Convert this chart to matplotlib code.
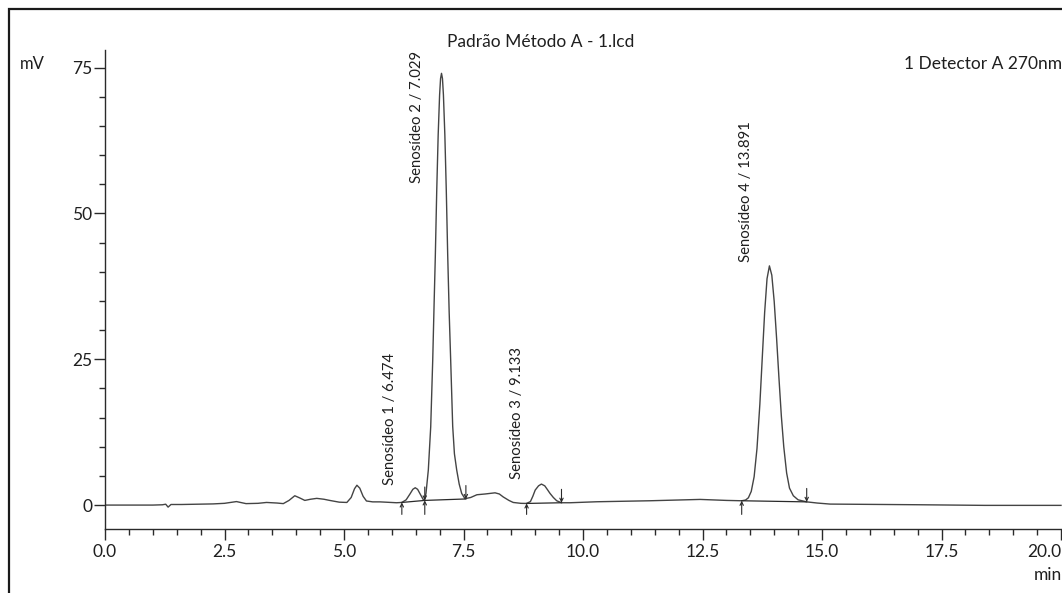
import numpy as np
import matplotlib
matplotlib.use("Agg")
import matplotlib.pyplot as plt
from matplotlib.patches import Rectangle

plt.rcParams['font.family'] = ['Lato', 'DejaVu Sans']

# chromatogram trace (min, mV)
time = [0.0, 1.0, 1.2, 1.27, 1.32, 1.38, 1.6, 2.26, 2.5, 2.75, 2.95, 3.2, 3.38,
        3.6, 3.73, 3.85, 3.97, 4.08, 4.18, 4.3, 4.43, 4.58, 4.7, 4.9, 5.06,
        5.15, 5.22, 5.27, 5.33, 5.40, 5.47, 5.6, 5.75, 6.1, 6.21, 6.30, 6.38,
        6.44, 6.49, 6.54, 6.60, 6.66,
        6.68, 6.715, 6.764, 6.814, 6.856, 6.885, 6.91, 6.94, 6.97, 7.00, 7.02,
        7.04, 7.06, 7.08, 7.11, 7.14, 7.169, 7.20, 7.232, 7.274, 7.31, 7.358,
        7.41, 7.462, 7.531,
        7.65, 7.78, 7.95, 8.16, 8.25, 8.33, 8.45, 8.54, 8.7, 8.82, 8.9, 8.95,
        9.0, 9.07, 9.13, 9.2, 9.26, 9.31, 9.38, 9.45, 9.55, 9.73, 10.29, 11.4,
        12.45, 13.0, 13.32,
        13.40, 13.46, 13.52, 13.58, 13.64, 13.70, 13.75, 13.80, 13.85, 13.90,
        13.95, 14.00, 14.05, 14.10, 14.15, 14.20, 14.26, 14.32, 14.40, 14.50,
        14.68, 14.9, 15.17, 16.98, 18.4, 20.0]
signal = [0.0, 0.0, 0.05, 0.15, -0.35, 0.1, 0.1, 0.2, 0.3, 0.6, 0.25, 0.3, 0.45,
          0.35, 0.25, 0.8, 1.6, 1.2, 0.8, 1.0, 1.15, 1.0, 0.8, 0.5, 0.45,
          1.3, 2.8, 3.4, 2.9, 1.5, 0.7, 0.55, 0.55, 0.4, 0.45, 0.9, 1.9,
          2.7, 2.97, 2.7, 1.8, 0.9,
          0.8, 2.0, 6.0, 13.4, 24.8, 34.5, 42.5, 53.9, 63.4, 70.3, 73.1,
          74.0, 73.1, 70.3, 63.4, 53.9, 43.0, 33.1, 24.8, 13.5, 8.8, 6.0,
          3.6, 2.0, 1.1,
          1.3, 1.77, 1.9, 2.1, 1.9, 1.4, 0.8, 0.45, 0.3, 0.28, 0.6, 1.5,
          2.57, 3.3, 3.6, 3.3, 2.6, 2.0, 1.3, 0.74, 0.4, 0.4, 0.57, 0.74,
          0.97, 0.8, 0.74,
          0.86, 1.25, 2.35, 4.85, 9.7, 17.3, 25.2, 33.0, 38.8, 41.0,
          39.4, 34.9, 28.6, 21.7, 15.2, 10.0, 5.5, 2.9, 1.6, 0.9,
          0.55, 0.35, 0.17, 0.06, -0.05, -0.05]

# identified peaks
peak_names = ["Senosídeo 1", "Senosídeo 2", "Senosídeo 3", "Senosídeo 4"]
peak_rt = [6.474, 7.029, 9.133, 13.891]
# label anchors (x, bottom y) in data units
label_pos = [(5.96, 3.4), (6.52, 55.2), (8.61, 4.5), (13.41, 41.6)]

# integration start / end marks (time, baseline value)
start_t = [6.21, 6.69, 8.82, 13.32]
start_v = [0.45, 0.8, 0.28, 0.74]
end_t = [6.69, 7.55, 9.55, 14.68]
end_v = [0.8, 1.05, 0.4, 0.55]

txt = '#1f1f1f'
fig = plt.figure(figsize=(10.62, 5.93), dpi=100)
ax = fig.add_axes([105 / 1062, 1 - 529 / 593, 957 / 1062, 479 / 593])

ax.plot(time, signal, color='#444444', lw=1.0)

# baselines under integrated peaks
for s, sv, e, ev in zip(start_t, start_v, end_t, end_v):
    ax.plot([s, e], [sv, ev], color='#2a2a2a', lw=0.9)

arr = dict(arrowstyle='->', lw=0.8, color='#2a2a2a', shrinkA=0, shrinkB=0,
           mutation_scale=6)
for s, sv in zip(start_t, start_v):
    ax.annotate('', xy=(s, sv), xytext=(s, -1.6), arrowprops=arr)
for e, ev in zip(end_t, end_v):
    ax.annotate('', xy=(e, ev), xytext=(e, ev + 2.3), arrowprops=arr)

for name, rt, (lx, ly) in zip(peak_names, peak_rt, label_pos):
    ax.text(lx, ly, f"{name} / {rt:.3f}", rotation=90, ha='center',
            va='bottom', fontsize=10.7, color=txt)

ax.set_xlim(0, 20 * 957 / 956)
ax.set_ylim(-4.1, 78)
ax.set_xticks(np.arange(0, 20.1, 2.5))
ax.set_xticklabels([f"{v:.1f}" for v in np.arange(0, 20.1, 2.5)])
ax.set_xticks(np.arange(0, 20.1, 0.5), minor=True)
ax.set_yticks([0, 25, 50, 75])
ax.set_yticks(np.arange(0, 76, 5), minor=True)

for sp in ['top', 'right']:
    ax.spines[sp].set_visible(False)
for sp in ['left', 'bottom']:
    ax.spines[sp].set_linewidth(1.0)
    ax.spines[sp].set_color('#2a2a2a')
ax.tick_params(which='major', length=8, width=1.0, color='#2a2a2a',
               labelsize=12.5, labelcolor=txt)
ax.tick_params(which='minor', length=4.3, width=1.0, color='#2a2a2a')
ax.tick_params(axis='y', pad=1)
ax.tick_params(axis='x', pad=3)
# last label sits at the page edge, keep it inside
ax.get_xticklabels()[-1].set_horizontalalignment('right')

fig.text(541 / 1062, 1 - 42 / 593, "Padrão Método A - 1.lcd", ha='center',
         va='center', fontsize=12.5, color=txt)
fig.text(1062 / 1062, 1 - 64 / 593, "1 Detector A 270nm", ha='right',
         va='center', fontsize=12.5, color=txt)
fig.text(20 / 1062, 1 - 64 / 593, "mV", ha='left', va='center', fontsize=12,
         color=txt)
fig.text(1062 / 1062, 1 - 575 / 593, "min", ha='right', va='center',
         fontsize=12.5, color=txt)

# page frame around the report
fig.patches.append(Rectangle((9 / 1062, -0.1), 1.2, 1 - 9 / 593 + 0.1,
                             transform=fig.transFigure, fill=False,
                             lw=1.6, edgecolor='#1a1a1a'))

fig.savefig('out.png', dpi=100)
